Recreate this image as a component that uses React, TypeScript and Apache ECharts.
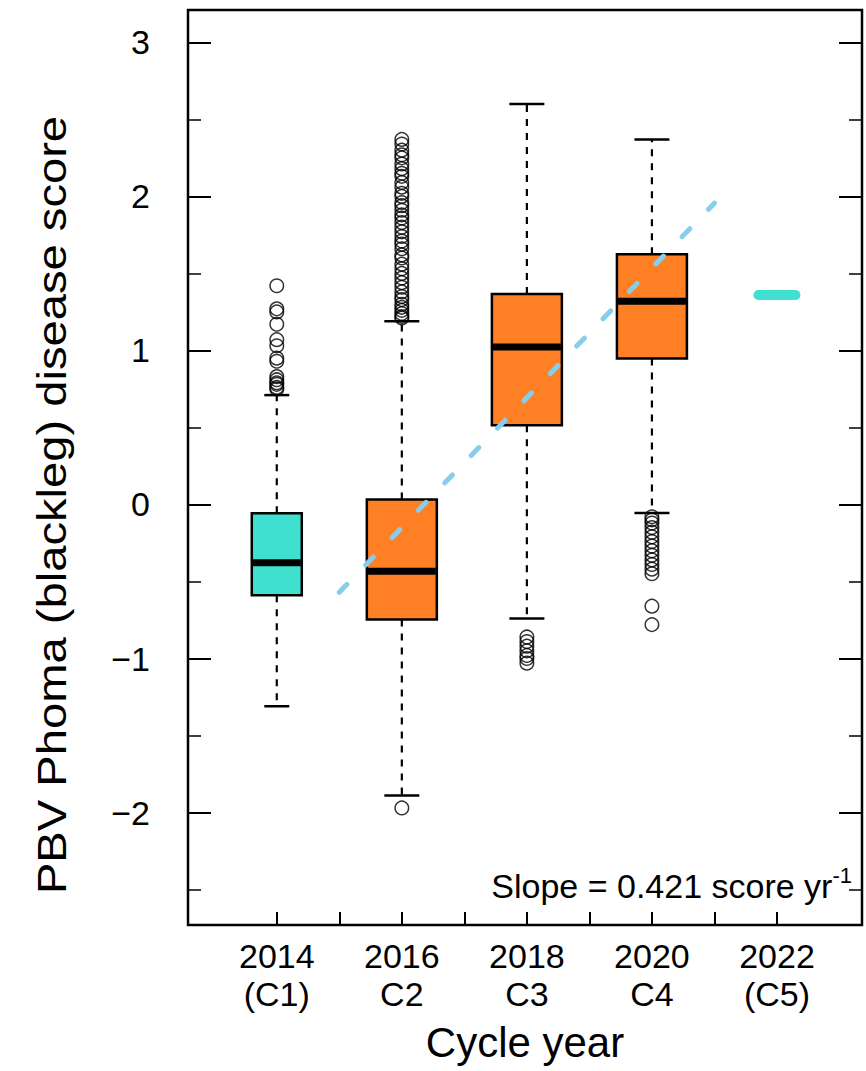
import React, { useEffect, useRef } from "react";
import * as echarts from "echarts";

// ---------- data ----------
const boxYears = [2014, 2016, 2018, 2020];
const lowerWhisker = [-1.31, -1.89, -0.74, -0.055];
const q1 = [-0.59, -0.747, 0.515, 0.948];
const median = [-0.379, -0.433, 1.023, 1.32];
const q3 = [-0.057, 0.032, 1.367, 1.625];
const upperWhisker = [0.71, 1.19, 2.6, 2.37];

const outliersC1 = [1.42, 1.27, 1.25, 1.17, 1.07, 1.03, 0.95, 0.93, 0.83, 0.81, 0.79, 0.78, 0.76, 0.75];
const outliersC2 = [
  2.37, 2.34, 2.3, 2.27, 2.25, 2.21, 2.18, 2.15, 2.13, 2.09, 2.06, 2.02, 2.0, 1.96, 1.94, 1.91,
  1.88, 1.86, 1.83, 1.8, 1.77, 1.74, 1.71, 1.69, 1.66, 1.62, 1.6, 1.56, 1.53, 1.5, 1.47, 1.44,
  1.41, 1.38, 1.35, 1.33, 1.3, 1.28, 1.26, 1.24, 1.22, 1.21, -1.97,
];
const outliersC3 = [-0.86, -0.89, -0.92, -0.95, -0.98, -1.0, -1.03];
const outliersC4 = [
  -0.08, -0.1, -0.12, -0.15, -0.18, -0.21, -0.24, -0.27, -0.3, -0.33, -0.36, -0.39, -0.42, -0.45,
  -0.66, -0.78,
];

const c5Year = 2022;
const c5Value = 1.36;

const trendYears = [2015, 2021];
const trendValues = [-0.57, 1.956];
const slopeValue = 0.421;

const xLabelYears = [2014, 2016, 2018, 2020, 2022];
const xLabelCycles = ["(C1)", "C2", "C3", "C4", "(C5)"];
const xTickYears = [2014, 2015, 2016, 2017, 2018, 2019, 2020, 2021, 2022];
const yMajorTicks = [-2, -1, 0, 1, 2, 3];
const yMinorTicks = [-2.5, -1.5, -0.5, 0.5, 1.5, 2.5];

// ---------- styles ----------
const X_MIN = 2012.58;
const X_MAX = 2023.36;
const Y_MIN = -2.73;
const Y_MAX = 3.21;
const TURQ = "#40E0D0";
const ORANGE = "#FF7F24";
const BOX_COLORS = [TURQ, ORANGE, ORANGE, ORANGE];
const BOX_WIDTH_PX = [50, 70, 70, 70];
const FONT = "'Liberation Sans', Arial, Helvetica, sans-serif";

const fmtY = (v: number) => (v < 0 ? "\u2212" + Math.abs(v) : String(v));

export default function App() {
  const ref = useRef<HTMLDivElement>(null);

  useEffect(() => {
    if (!ref.current) return;
    const chart = echarts.init(ref.current, undefined, { renderer: "svg" });

    const boxData = boxYears.map((y, i) => [y, lowerWhisker[i], q1[i], median[i], q3[i], upperWhisker[i]]);
    const outlierData = [
      ...outliersC1.map((v) => [boxYears[0], v]),
      ...outliersC2.map((v) => [boxYears[1], v]),
      ...outliersC3.map((v) => [boxYears[2], v]),
      ...outliersC4.map((v) => [boxYears[3], v]),
    ];
    const trendData = trendYears.map((y, i) => [y, trendValues[i]]);

    const renderBox = (params: any, api: any) => {
      const i = params.dataIndex;
      const x = api.value(0);
      const cx = api.coord([x, api.value(1)])[0];
      const yLo = api.coord([x, api.value(1)])[1];
      const yQ1 = api.coord([x, api.value(2)])[1];
      const yMed = api.coord([x, api.value(3)])[1];
      const yQ3 = api.coord([x, api.value(4)])[1];
      const yHi = api.coord([x, api.value(5)])[1];
      const w = BOX_WIDTH_PX[i];
      const h = w / 2;
      const c = w / 4;
      const dash = { stroke: "#000", lineWidth: 2.2, lineDash: [7, 7], fill: null };
      const solid = { stroke: "#000", lineWidth: 2.5, fill: null };
      return {
        type: "group",
        children: [
          { type: "line", shape: { x1: cx, y1: yQ3, x2: cx, y2: yHi }, style: dash },
          { type: "line", shape: { x1: cx, y1: yQ1, x2: cx, y2: yLo }, style: dash },
          { type: "line", shape: { x1: cx - c, y1: yHi, x2: cx + c, y2: yHi }, style: solid },
          { type: "line", shape: { x1: cx - c, y1: yLo, x2: cx + c, y2: yLo }, style: solid },
          {
            type: "rect",
            shape: { x: cx - h, y: yQ3, width: w, height: yQ1 - yQ3 },
            style: { fill: BOX_COLORS[i], stroke: "#000", lineWidth: 2.5 },
          },
          {
            type: "line",
            shape: { x1: cx - h + 1, y1: yMed, x2: cx + h - 1, y2: yMed },
            style: { stroke: "#000", lineWidth: 7 },
          },
        ],
      };
    };

    const renderC5 = (params: any, api: any) => {
      const p = api.coord([api.value(0), api.value(1)]);
      return {
        type: "line",
        shape: { x1: p[0] - 18.5, y1: p[1], x2: p[0] + 18.5, y2: p[1] },
        style: { stroke: TURQ, lineWidth: 10, lineCap: "round" },
      };
    };

    const yAxisBase = {
      type: "value",
      min: Y_MIN,
      max: Y_MAX,
      axisLine: { show: false, onZero: false },
      splitLine: { show: false },
    };

    chart.setOption({
      animation: false,
      backgroundColor: "#fff",
      grid: {
        left: 188,
        right: 4,
        top: 10,
        bottom: 146,
        show: true,
        borderColor: "#000",
        borderWidth: 2.5,
        backgroundColor: "transparent",
        containLabel: false,
      },
      xAxis: {
        type: "value",
        min: X_MIN,
        max: X_MAX,
        position: "bottom",
        axisLine: { show: false, onZero: false },
        splitLine: { show: false },
        axisTick: {
          show: true,
          inside: true,
          length: 13,
          customValues: xTickYears,
          lineStyle: { color: "#000", width: 2 },
        },
        axisLabel: {
          show: true,
          customValues: xLabelYears,
          formatter: (v: number) => {
            const k = xLabelYears.indexOf(Math.round(v));
            return k >= 0 ? `${xLabelYears[k]}\n${xLabelCycles[k]}` : "";
          },
          color: "#000",
          fontSize: 34,
          lineHeight: 38,
          fontFamily: FONT,
          margin: 12,
        },
        name: "Cycle year",
        nameLocation: "middle",
        nameGap: 96,
        nameTextStyle: { color: "#000", fontSize: 42, fontFamily: FONT },
      },
      yAxis: [
        {
          ...yAxisBase,
          position: "left",
          axisTick: {
            show: true,
            inside: true,
            length: 23,
            customValues: yMajorTicks,
            lineStyle: { color: "#000", width: 2 },
          },
          axisLabel: {
            show: true,
            customValues: yMajorTicks,
            formatter: fmtY,
            color: "#000",
            fontSize: 34,
            fontFamily: FONT,
            margin: 38,
          },
        },
        {
          ...yAxisBase,
          position: "left",
          axisTick: {
            show: true,
            inside: true,
            length: 13,
            customValues: yMinorTicks,
            lineStyle: { color: "#000", width: 1.5 },
          },
          axisLabel: { show: false },
        },
        {
          ...yAxisBase,
          position: "right",
          axisTick: {
            show: true,
            inside: true,
            length: 23,
            customValues: yMajorTicks,
            lineStyle: { color: "#000", width: 2 },
          },
          axisLabel: { show: false },
        },
        {
          ...yAxisBase,
          position: "right",
          axisTick: {
            show: true,
            inside: true,
            length: 13,
            customValues: yMinorTicks,
            lineStyle: { color: "#000", width: 1.5 },
          },
          axisLabel: { show: false },
        },
      ],
      graphic: [
        {
          type: "text",
          x: 52,
          y: 505,
          rotation: Math.PI / 2,
          scaleX: 1.15,
          style: {
            text: "PBV Phoma (blackleg) disease score",
            font: `41px ${FONT}`,
            fill: "#000",
            align: "center",
            verticalAlign: "middle",
          },
        },
        {
          type: "text",
          x: 852,
          y: 886,
          style: {
            text: `{m|Slope = ${slopeValue} score yr}{s|-1}`,
            align: "right",
            verticalAlign: "middle",
            rich: {
              m: { fontSize: 34, fontFamily: FONT, fill: "#000", color: "#000" },
              s: { fontSize: 22, fontFamily: FONT, fill: "#000", color: "#000", verticalAlign: "top", lineHeight: 44 },
            },
          },
        },
      ],
      series: [
        {
          type: "custom",
          renderItem: renderBox,
          data: boxData,
          encode: { x: 0, y: [1, 2, 3, 4, 5] },
          z: 2,
          silent: true,
        },
        {
          type: "scatter",
          data: outlierData,
          symbol: "circle",
          symbolSize: 13.5,
          itemStyle: { color: "rgba(0,0,0,0)", borderColor: "#000", borderWidth: 1.5 },
          z: 3,
          silent: true,
        },
        {
          type: "custom",
          renderItem: renderC5,
          data: [[c5Year, c5Value]],
          encode: { x: 0, y: 1 },
          z: 3,
          silent: true,
        },
        {
          type: "line",
          data: trendData,
          symbol: "none",
          lineStyle: { color: "#87CEEB", width: 5, type: [11, 27], cap: "round" },
          z: 4,
          silent: true,
        },
      ],
    });

    return () => chart.dispose();
  }, []);

  return (
    <div
      ref={ref}
      style={{ position: "absolute", left: 0, top: 0, width: 866, height: 1071, background: "#fff" }}
    />
  );
}
